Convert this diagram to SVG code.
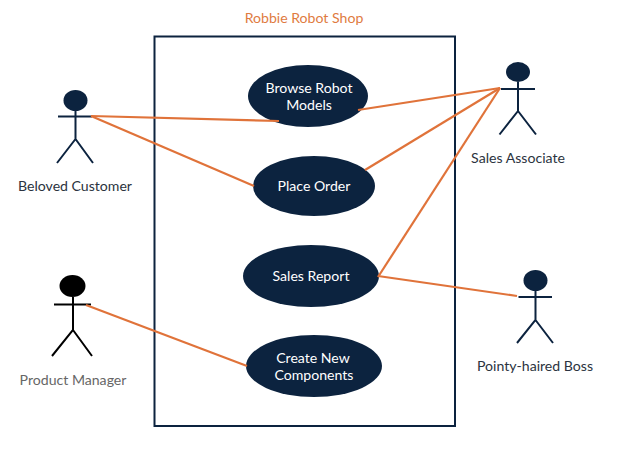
<svg xmlns="http://www.w3.org/2000/svg" width="638" height="450" viewBox="0 0 638 450">
<style>
text{font-family:Lato,"Open Sans","Liberation Sans",sans-serif;font-size:14.100px;text-anchor:middle}
.a{fill:#2b3340}
.u{fill:#fff}
.e{fill:#0c233f}
.s{stroke:#0c233f;stroke-width:2;fill:none}
.k{stroke:#000;stroke-width:2;fill:none}
.c{stroke:#e0733a;stroke-width:2.200;fill:none}
</style>
<rect width="638" height="450" fill="#fff"/>
<text id="title" x="304" y="23" style="fill:#e07b3f">Robbie Robot Shop</text>
<rect id="boundary" x="154.500" y="36.500" width="300.500" height="389.500" class="s"/>
<g id="browse"><ellipse cx="308" cy="96" rx="60" ry="31" class="e"/><text x="309" y="93" class="u">Browse Robot</text><text x="309" y="110" class="u">Models</text></g>
<g id="place"><ellipse cx="314" cy="186" rx="61" ry="30" class="e"/><text x="314" y="191" class="u">Place Order</text></g>
<g id="report"><ellipse cx="311" cy="276" rx="68" ry="31" class="e"/><text x="311" y="281" class="u">Sales Report</text></g>
<g id="create"><ellipse cx="314" cy="366" rx="68" ry="31" class="e"/><text x="313" y="363" class="u">Create New</text><text x="314" y="380" class="u">Components</text></g>
<g id="customer"><ellipse cx="75.500" cy="100.500" rx="12" ry="10.500" class="e"/><path d="M58 116.500H92M75.500 110V139L57 163M75.500 139L93 163" class="s"/><text x="75" y="191" class="a">Beloved Customer</text></g>
<g id="associate"><ellipse cx="518" cy="72" rx="12" ry="10" class="e"/><path d="M501 89H535M518 82V111L499.500 134.500M518 111L536 134.500" class="s"/><text x="518" y="163" class="a">Sales Associate</text></g>
<g id="manager"><ellipse cx="72.500" cy="286" rx="13" ry="11" fill="#000"/><path d="M54 304.500H91M73 297V330L52 356M73 330L92 356" class="k"/><text x="73" y="385" fill="#666">Product Manager</text></g>
<g id="boss"><ellipse cx="535.500" cy="280.500" rx="12" ry="10.500" class="e"/><path d="M518.500 297H552M535.500 291V320L517 343M535.500 320L553 343" class="s"/><text x="535" y="371" class="a">Pointy-haired Boss</text></g>
<g id="connectors" class="c">
<path d="M91 116L279 121"/>
<path d="M91 116L254 186"/>
<path d="M358 110L500 88"/>
<path d="M365 170L500 88"/>
<path d="M378 277L500 88"/>
<path d="M378 276L517 296"/>
<path d="M86 305L247 366"/>
</g>
</svg>
